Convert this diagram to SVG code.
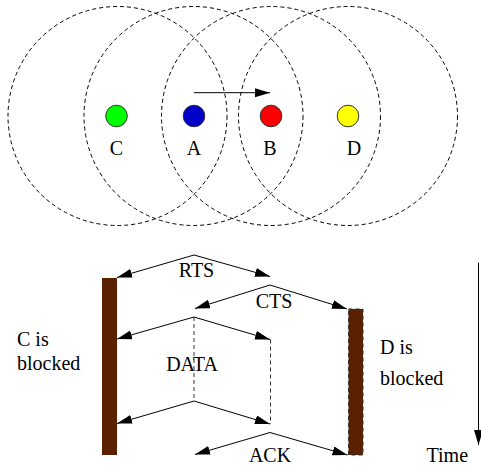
<svg xmlns="http://www.w3.org/2000/svg" width="481" height="468" viewBox="0 0 481 468">
<style>
.range{fill:none;stroke:#000;stroke-width:1;stroke-dasharray:4,3}
.node{stroke:#333;stroke-width:1}
.lbl{font-size:20px;fill:#000}
.msg{fill:none;stroke:#000;stroke-width:1}
.dash{fill:none;stroke:#333;stroke-width:1;stroke-dasharray:4,3}
.bar{fill:#5a2000}
</style>
<defs>
<marker id="ah" markerUnits="userSpaceOnUse" markerWidth="16" markerHeight="10" refX="15" refY="4.5" orient="auto">
<path d="M0,0 L15,4.5 L0,9 z" fill="#000"/>
</marker>
</defs>
<rect width="481" height="468" fill="#fff"/>
<g id="ranges">
<circle class="range" cx="117.5" cy="116" r="109.5"/>
<circle class="range" cx="193.5" cy="116" r="109.5"/>
<circle class="range" cx="271" cy="116" r="109.5"/>
<circle class="range" cx="348" cy="116" r="109.5"/>
</g>
<g font-family="Liberation Serif, Times New Roman, serif">
<g id="node-C"><circle class="node" cx="116.5" cy="116" r="10.8" fill="#00ff00"/><text class="lbl" x="116.5" y="155" text-anchor="middle">C</text></g>
<g id="node-A"><circle class="node" cx="194" cy="116" r="10.8" fill="#0000c8"/><text class="lbl" x="194" y="155" text-anchor="middle">A</text></g>
<g id="node-B"><circle class="node" cx="271" cy="116" r="10.8" fill="#ff0000"/><text class="lbl" x="270" y="155" text-anchor="middle">B</text></g>
<g id="node-D"><circle class="node" cx="348" cy="116" r="10.8" fill="#ffff00"/><text class="lbl" x="354" y="155" text-anchor="middle">D</text></g>
</g>
<g id="bar-C"><rect class="bar" x="102" y="278" width="15" height="177"/></g>
<g id="bar-D"><rect class="bar" x="348.5" y="309" width="14.5" height="146" stroke="#333" stroke-width="1" stroke-dasharray="4,3"/></g>
<g id="connectors">
<line class="msg" x1="194" y1="92.7" x2="270" y2="92.7" stroke="#555" marker-end="url(#ah)"/>
<polyline class="msg" points="194,255 117,277.5" marker-end="url(#ah)"/>
<polyline class="msg" points="194,255 270,276.5" marker-end="url(#ah)"/>
<polyline class="msg" points="270,285 195,308.5" marker-end="url(#ah)"/>
<polyline class="msg" points="270,285 347,309" marker-end="url(#ah)"/>
<polyline class="msg" points="194,317 117,339" marker-end="url(#ah)"/>
<polyline class="msg" points="194,317 270,339.5" marker-end="url(#ah)"/>
<line class="dash" x1="194" y1="317" x2="194" y2="401"/>
<line class="dash" x1="270.5" y1="339.5" x2="270.5" y2="424"/>
<polyline class="msg" points="194,401 117,423.5" marker-end="url(#ah)"/>
<polyline class="msg" points="194,401 270,424" marker-end="url(#ah)"/>
<polyline class="msg" points="270,432.5 195,454.5" marker-end="url(#ah)"/>
<polyline class="msg" points="270,432.5 347.5,455" marker-end="url(#ah)"/>
<line class="msg" x1="478.5" y1="262.5" x2="478.5" y2="445" stroke-width="1.3" marker-end="url(#ah)"/>
</g>
<g id="labels" font-family="Liberation Serif, Times New Roman, serif">
<text class="lbl" x="196.5" y="277" text-anchor="middle">RTS</text>
<text class="lbl" x="274" y="308" text-anchor="middle">CTS</text>
<text class="lbl" x="192" y="371" text-anchor="middle">DATA</text>
<text class="lbl" x="270" y="462" text-anchor="middle">ACK</text>
<text class="lbl" x="17" y="346">C is</text>
<text class="lbl" x="17" y="370">blocked</text>
<text class="lbl" x="380" y="354">D is</text>
<text class="lbl" x="380" y="385">blocked</text>
<text class="lbl" x="426.5" y="462">Time</text>
</g>
</svg>
